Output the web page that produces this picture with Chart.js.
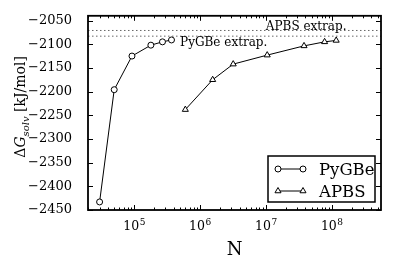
<!DOCTYPE html>
<html>
<head>
<meta charset="utf-8">
<script src="https://cdn.jsdelivr.net/npm/chart.js@4.4.0/dist/chart.umd.min.js"></script>
<style>
  html, body { margin: 0; padding: 0; background: #fff; }
  canvas { display: block; }
</style>
</head>
<body>
<canvas id="chartArea" width="399" height="266"></canvas>
<script>
// data
var pygbeN = [3.0e4, 5.0e4, 9.3e4, 1.8e5, 2.7e5, 3.7e5]
var pygbeG = [-2433, -2196, -2125, -2102, -2095, -2091]
var apbsN = [6.0e5, 1.56e6, 3.2e6, 1.05e7, 3.8e7, 7.8e7, 1.17e8]
var apbsG = [-2238, -2175, -2142, -2123, -2103.5, -2095, -2092]
var pygbeExtrap = -2083
var apbsExtrap = -2071

var xRange = [2e4, 5.6e8]
var yRange = [-2450, -2040]
var yTicks = [-2450, -2400, -2350, -2300, -2250, -2200, -2150, -2100, -2050]
var xMajor = [1e5, 1e6, 1e7, 1e8]
var xMajorLabels = ['5', '6', '7', '8']

var FONT = "'DejaVu Serif', serif"

function toXY(xs, ys){
  var out = []
  for(var i = 0; i < xs.length; i++){
    out.push({x: xs[i], y: ys[i]})
  }
  return out
}

// minor ticks of the log axis: 2..9 times each decade
var xMinor = []
for(var d = 1e4; d < 1e9; d *= 10){
  for(var m = 2; m <= 9; m++){
    var v = m * d
    if(v >= xRange[0] && v <= xRange[1]) xMinor.push(v)
  }
}

function drawMarker(ctx, style, r, x, y){
  ctx.save()
  ctx.fillStyle = '#fff'
  ctx.strokeStyle = '#000'
  ctx.lineWidth = 1
  Chart.helpers.drawPoint(ctx, {pointStyle: style, radius: r, borderWidth: 1, rotation: 0}, x, y)
  ctx.restore()
}

var framePlugin = {
  id: 'frame',
  afterDraw: function(chart){
    var ctx = chart.ctx
    var a = chart.chartArea
    var xs = chart.scales.x
    var ys = chart.scales.y
    ctx.save()
    ctx.strokeStyle = '#000'
    ctx.fillStyle = '#000'

    // inward ticks on all four sides
    ctx.lineWidth = 1
    ctx.beginPath()
    yTicks.forEach(function(v){
      var py = Math.round(ys.getPixelForValue(v)) + 0.5
      ctx.moveTo(a.left, py); ctx.lineTo(a.left + 5, py)
      ctx.moveTo(a.right, py); ctx.lineTo(a.right - 5, py)
    })
    xMajor.forEach(function(v){
      var px = Math.round(xs.getPixelForValue(v)) + 0.5
      ctx.moveTo(px, a.bottom); ctx.lineTo(px, a.bottom - 5)
      ctx.moveTo(px, a.top); ctx.lineTo(px, a.top + 5)
    })
    xMinor.forEach(function(v){
      var px = Math.round(xs.getPixelForValue(v)) + 0.5
      ctx.moveTo(px, a.bottom); ctx.lineTo(px, a.bottom - 2.5)
      ctx.moveTo(px, a.top); ctx.lineTo(px, a.top + 2.5)
    })
    ctx.stroke()

    // frame
    ctx.lineWidth = 1.8
    ctx.strokeRect(a.left, a.top, a.right - a.left, a.bottom - a.top)

    // x tick labels 10^k
    ctx.textBaseline = 'alphabetic'
    xMajor.forEach(function(v, i){
      var px = xs.getPixelForValue(v)
      ctx.font = '12.5px ' + FONT
      var wBase = ctx.measureText('10').width
      ctx.font = '9px ' + FONT
      var wExp = ctx.measureText(xMajorLabels[i]).width
      var x0 = px - (wBase + wExp) / 2
      ctx.font = '12.5px ' + FONT
      ctx.textAlign = 'left'
      ctx.fillText('10', x0, a.bottom + 20)
      ctx.font = '9px ' + FONT
      ctx.fillText(xMajorLabels[i], x0 + wBase + 0.5, a.bottom + 15)
    })

    // y axis title
    ctx.save()
    ctx.translate(25, (a.top + a.bottom) / 2 - 6)
    ctx.rotate(-Math.PI / 2)
    var parts = [
      {t: 'Δ', f: '14px ' + FONT, dy: 0},
      {t: 'G', f: 'italic 14px ' + FONT, dy: 0},
      {t: 'solv', f: 'italic 10px ' + FONT, dy: 3.5},
      {t: ' [kJ/mol]', f: '14px ' + FONT, dy: 0}
    ]
    var total = 0
    parts.forEach(function(p){ ctx.font = p.f; p.w = ctx.measureText(p.t).width; total += p.w })
    var cx = -total / 2
    ctx.textAlign = 'left'
    parts.forEach(function(p){
      ctx.font = p.f
      ctx.fillText(p.t, cx, p.dy)
      cx += p.w
    })
    ctx.restore()

    // extrapolation labels
    ctx.font = '12px ' + FONT
    ctx.textAlign = 'left'
    ctx.fillText('APBS extrap.', xs.getPixelForValue(1e7), ys.getPixelForValue(apbsExtrap) - 0.5)
    ctx.fillText('PyGBe extrap.', xs.getPixelForValue(5e5), ys.getPixelForValue(pygbeExtrap) + 9.5)

    // legend
    var bw = 107, bh = 46
    var bx = a.right - 6 - bw, by = a.bottom - 8 - bh
    ctx.fillStyle = '#fff'
    ctx.fillRect(bx, by, bw, bh)
    ctx.lineWidth = 1.5
    ctx.strokeStyle = '#000'
    ctx.strokeRect(bx, by, bw, bh)
    chart.data.datasets.slice(0, 2).forEach(function(ds, i){
      var ry = by + 13 + i * 22
      ctx.lineWidth = 1
      ctx.strokeStyle = '#000'
      ctx.beginPath()
      ctx.moveTo(bx + 10, ry); ctx.lineTo(bx + 35, ry)
      ctx.stroke()
      drawMarker(ctx, ds.pointStyle, ds.pointRadius, bx + 10, ry)
      drawMarker(ctx, ds.pointStyle, ds.pointRadius, bx + 35, ry)
      ctx.fillStyle = '#000'
      ctx.font = '16.5px ' + FONT
      ctx.fillText(ds.label, bx + 51, ry + 5.5)
    })
    ctx.restore()
  }
}

var ctx = document.getElementById('chartArea').getContext('2d')
var myChart = new Chart(ctx, {
  type: 'line',
  data: {
    datasets: [
      {
        label: 'PyGBe',
        data: toXY(pygbeN, pygbeG),
        borderColor: '#000',
        borderWidth: 1,
        pointStyle: 'circle',
        pointRadius: 3,
        pointBackgroundColor: '#fff',
        pointBorderColor: '#000',
        pointBorderWidth: 1,
        tension: 0
      },
      {
        label: 'APBS',
        data: toXY(apbsN, apbsG),
        borderColor: '#000',
        borderWidth: 1,
        pointStyle: 'triangle',
        pointRadius: 3.5,
        pointBackgroundColor: '#fff',
        pointBorderColor: '#000',
        pointBorderWidth: 1,
        tension: 0
      },
      {
        label: 'PyGBe extrap.',
        data: toXY(xRange, [pygbeExtrap, pygbeExtrap]),
        borderColor: '#666',
        borderWidth: 1,
        borderDash: [1.5, 2.5],
        pointRadius: 0
      },
      {
        label: 'APBS extrap.',
        data: toXY(xRange, [apbsExtrap, apbsExtrap]),
        borderColor: '#666',
        borderWidth: 1,
        borderDash: [1.5, 2.5],
        pointRadius: 0
      }
    ]
  },
  options: {
    responsive: false,
    animation: false,
    devicePixelRatio: 1,
    layout: { padding: { top: 13, right: 18, left: 0, bottom: 0 } },
    plugins: {
      legend: { display: false },
      tooltip: { enabled: false }
    },
    scales: {
      x: {
        type: 'logarithmic',
        min: xRange[0],
        max: xRange[1],
        grid: { display: false },
        border: { display: false },
        ticks: { display: false },
        title: {
          display: true,
          text: 'N',
          color: '#000',
          font: { family: FONT, size: 18 },
          padding: { top: 0, bottom: 5 }
        },
        afterFit: function(s){ s.height = 56 }
      },
      y: {
        min: yRange[0],
        max: yRange[1],
        grid: { display: false },
        border: { display: false },
        afterBuildTicks: function(s){
          s.ticks = yTicks.map(function(v){ return {value: v} })
        },
        ticks: {
          color: '#000',
          padding: 8,
          font: { family: FONT, size: 13 },
          callback: function(v){ return String(v).replace('-', '\u2212') }
        },
        afterFit: function(s){ s.width = 88 }
      }
    }
  },
  plugins: [framePlugin]
})
</script>
</body>
</html>
